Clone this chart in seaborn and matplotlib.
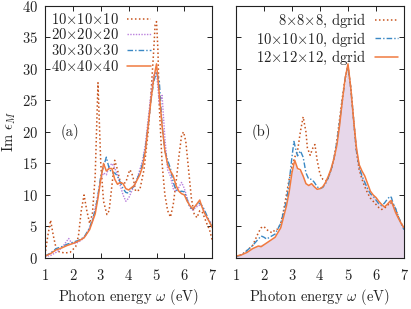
import numpy as np
import pandas as pd
import seaborn as sns
import matplotlib
matplotlib.use("Agg")
import matplotlib.pyplot as plt

# panel (a): k-point convergence
e10 = [1.0, 1.1, 1.2, 1.3, 1.4, 1.5, 1.7, 1.9, 2.1, 2.2, 2.3, 2.4, 2.5, 2.6, 2.7, 2.8, 2.9,
       3.0, 3.1, 3.22, 3.3, 3.4, 3.5, 3.6, 3.7, 3.8, 3.9, 4.0, 4.05, 4.15, 4.25, 4.4, 4.55,
       4.7, 4.8, 4.9, 4.95, 5.0, 5.05, 5.1, 5.2, 5.3, 5.4, 5.5, 5.6, 5.7, 5.8, 5.9, 5.97,
       6.05, 6.15, 6.25, 6.35, 6.45, 6.55, 6.65, 6.8, 6.9, 7.0]
im10 = [0.5, 3.5, 6.0, 3.5, 1.5, 1.0, 0.8, 0.9, 1.8, 3.5, 7.5, 10.0, 7.5, 5.5, 7.0, 13.0, 27.8,
        15.0, 9.0, 6.9, 7.5, 11.5, 15.5, 14.0, 12.0, 11.8, 12.0, 13.5, 14.0, 13.0, 10.6, 10.8, 14.0,
        20.0, 26.0, 33.0, 37.0, 37.5, 33.0, 24.0, 15.0, 10.0, 7.5, 6.5, 8.5, 12.0, 16.0, 19.5, 20.0,
        18.5, 14.0, 9.5, 7.0, 6.4, 7.5, 7.2, 5.5, 4.5, 2.8]

e20 = [1.0, 1.2, 1.4, 1.6, 1.75, 1.85, 1.95, 2.1, 2.3, 2.5, 2.7, 2.9, 3.0, 3.1, 3.2, 3.3, 3.4,
       3.5, 3.6, 3.7, 3.8, 3.9, 4.0, 4.1, 4.2, 4.3, 4.4, 4.5, 4.6, 4.7, 4.8, 4.9, 5.0, 5.1, 5.2,
       5.3, 5.4, 5.5, 5.6, 5.7, 5.8, 5.9, 6.0, 6.1, 6.2, 6.3, 6.4, 6.5, 6.6, 6.7, 6.8, 6.9, 7.0]
im20 = [0.2, 0.4, 0.9, 1.6, 2.5, 3.1, 2.4, 2.3, 2.8, 3.8, 5.8, 10.0, 12.5, 13.5, 13.2, 14.5, 15.0,
        14.3, 13.2, 11.5, 10.0, 9.0, 9.5, 10.5, 11.5, 12.5, 14.0, 15.5, 18.0, 22.0, 26.0, 29.0, 29.5,
        24.5, 25.8, 19.0, 14.0, 13.0, 11.0, 10.6, 11.2, 12.0, 11.0, 9.5, 8.0, 7.6, 8.0, 8.3, 8.5,
        7.5, 6.5, 5.8, 5.5]

e30 = [1.0, 1.2, 1.4, 1.6, 1.8, 2.0, 2.2, 2.4, 2.6, 2.8, 2.9, 3.0, 3.1, 3.2, 3.3, 3.4, 3.5, 3.6,
       3.7, 3.8, 3.9, 4.0, 4.2, 4.4, 4.5, 4.6, 4.7, 4.8, 4.9, 5.0, 5.1, 5.2, 5.3, 5.4, 5.5, 5.6,
       5.7, 5.8, 5.9, 6.0, 6.1, 6.2, 6.3, 6.4, 6.5, 6.6, 6.7, 6.8, 6.9, 7.0]
im30 = [0.3, 0.8, 1.5, 1.8, 2.2, 2.5, 2.8, 3.3, 4.8, 7.5, 10.0, 13.0, 14.5, 16.0, 14.2, 13.5, 13.5,
        13.0, 12.0, 11.0, 10.4, 10.3, 11.5, 13.5, 15.0, 17.5, 21.0, 25.0, 28.0, 29.5, 28.0, 21.0,
        17.0, 15.5, 14.2, 12.0, 10.8, 10.5, 10.6, 10.5, 9.2, 8.0, 7.8, 8.2, 8.8, 8.5, 7.8, 6.8,
        5.8, 4.8]

e40 = [1.0, 1.2, 1.4, 1.6, 1.8, 2.0, 2.2, 2.4, 2.6, 2.8, 2.9, 3.0, 3.1, 3.2, 3.3, 3.4, 3.5, 3.6,
       3.7, 3.8, 3.9, 4.0, 4.2, 4.4, 4.5, 4.6, 4.7, 4.8, 4.9, 5.0, 5.1, 5.2, 5.3, 5.4, 5.5, 5.6,
       5.7, 5.8, 5.9, 6.0, 6.1, 6.2, 6.3, 6.4, 6.5, 6.55, 6.6, 6.7, 6.8, 6.9, 7.0]
im40 = [0.3, 0.7, 1.3, 1.6, 2.0, 2.3, 2.7, 3.2, 4.5, 7.0, 9.5, 12.5, 15.0, 13.8, 14.2, 14.2, 12.5,
        11.7, 12.0, 11.8, 11.0, 10.8, 11.5, 13.2, 14.5, 17.0, 21.0, 25.0, 28.5, 30.8, 26.0, 21.0,
        17.0, 14.8, 13.8, 13.0, 11.5, 10.6, 10.2, 10.0, 9.0, 8.3, 7.8, 8.3, 8.9, 9.2, 8.5, 7.3,
        6.5, 5.7, 4.8]

# panel (b): dgrid
e8 = [1.0, 1.2, 1.4, 1.6, 1.7, 1.8, 1.9, 2.0, 2.1, 2.2, 2.3, 2.4, 2.5, 2.6, 2.7, 2.8, 2.9, 3.0,
      3.1, 3.2, 3.3, 3.4, 3.5, 3.55, 3.65, 3.75, 3.82, 3.9, 4.0, 4.1, 4.25, 4.4, 4.5, 4.6, 4.7,
      4.8, 4.9, 5.0, 5.1, 5.2, 5.3, 5.4, 5.5, 5.6, 5.7, 5.8, 5.9, 6.0, 6.1, 6.2, 6.3, 6.4, 6.5,
      6.6, 6.7, 6.8, 6.9, 7.0]
im8 = [0.2, 0.5, 1.2, 2.0, 3.0, 4.0, 4.8, 5.0, 4.5, 4.2, 4.0, 4.5, 4.6, 5.5, 7.5, 10.0, 12.5, 14.5,
       16.0, 17.0, 20.0, 22.4, 20.0, 17.5, 16.3, 17.5, 18.0, 15.5, 13.3, 12.5, 12.2, 14.0, 15.8,
       18.5, 22.0, 25.5, 28.5, 30.5, 27.0, 22.0, 17.0, 14.0, 12.5, 11.3, 10.3, 9.5, 9.0, 8.5, 8.0,
       7.7, 7.9, 8.3, 8.8, 8.6, 7.8, 6.5, 5.5, 4.8]

e10d = [1.0, 1.2, 1.4, 1.6, 1.8, 1.9, 2.0, 2.1, 2.2, 2.4, 2.6, 2.8, 2.9, 3.0, 3.07, 3.15, 3.2,
        3.3, 3.4, 3.5, 3.6, 3.7, 3.8, 3.9, 4.0, 4.1, 4.2, 4.3, 4.4, 4.5, 4.6, 4.7, 4.8, 4.9, 5.0,
        5.1, 5.2, 5.3, 5.4, 5.5, 5.6, 5.7, 5.8, 5.9, 6.0, 6.1, 6.2, 6.3, 6.4, 6.5, 6.55, 6.6, 6.7,
        6.8, 6.9, 7.0]
im10d = [0.2, 0.5, 1.2, 2.0, 3.0, 3.5, 3.3, 3.0, 3.3, 3.8, 5.5, 9.0, 12.0, 16.0, 18.5, 17.0, 16.2,
         17.0, 16.0, 13.5, 12.5, 12.5, 12.0, 11.3, 11.0, 11.2, 11.8, 12.8, 14.0, 15.8, 18.3, 21.5,
         25.0, 28.5, 30.5, 27.0, 22.0, 17.0, 14.5, 13.0, 12.0, 11.0, 10.2, 9.8, 9.2, 8.6, 8.3, 8.7,
         9.3, 9.8, 9.6, 8.8, 7.8, 6.6, 5.4, 4.5]

e12 = [1.0, 1.2, 1.4, 1.6, 1.8, 1.9, 2.0, 2.2, 2.4, 2.6, 2.8, 2.9, 3.0, 3.1, 3.2, 3.3, 3.4, 3.5,
       3.6, 3.7, 3.8, 3.9, 4.0, 4.1, 4.2, 4.3, 4.4, 4.5, 4.6, 4.7, 4.8, 4.9, 5.0, 5.1, 5.2, 5.3,
       5.4, 5.5, 5.6, 5.7, 5.8, 5.9, 6.0, 6.1, 6.2, 6.3, 6.4, 6.5, 6.55, 6.6, 6.7, 6.8, 6.9, 7.0]
im12 = [0.3, 0.5, 0.9, 1.5, 1.9, 1.8, 2.1, 2.7, 3.3, 4.8, 8.2, 10.5, 13.5, 15.5, 14.2, 14.0, 13.0,
        11.8, 11.5, 11.8, 11.3, 10.9, 11.0, 11.3, 12.0, 13.0, 14.2, 15.8, 17.8, 21.0, 25.0, 28.5,
        30.8, 27.0, 22.0, 17.5, 14.8, 13.8, 13.0, 11.8, 10.6, 10.0, 9.6, 9.0, 8.5, 8.1, 8.5, 9.0,
        9.1, 8.4, 7.2, 6.3, 5.5, 4.8]

# shaded reference spectrum in (b)
eref = [1.0, 1.2, 1.4, 1.6, 1.8, 2.0, 2.2, 2.4, 2.6, 2.8, 2.9, 3.0, 3.1, 3.2, 3.3, 3.4, 3.5, 3.6,
        3.7, 3.8, 3.9, 4.0, 4.2, 4.4, 4.6, 4.8, 5.0, 5.2, 5.4, 5.5, 5.6, 5.7, 5.8, 5.9, 6.0, 6.2,
        6.3, 6.4, 6.5, 6.6, 6.7, 6.8, 6.9, 7.0]
imref = [0.2, 0.5, 1.0, 1.6, 2.0, 2.3, 2.8, 3.4, 5.0, 8.3, 10.8, 13.5, 15.0, 14.0, 13.8, 13.0, 11.8,
         11.6, 11.8, 11.3, 10.9, 11.0, 12.0, 14.2, 17.8, 25.0, 30.5, 22.0, 14.5, 13.3, 12.3, 11.2,
         10.2, 9.8, 9.4, 8.4, 8.3, 8.8, 9.4, 8.7, 7.6, 6.5, 5.5, 4.6]

labels_a = [r"10$\times$10$\times$10", r"20$\times$20$\times$20",
            r"30$\times$30$\times$30", r"40$\times$40$\times$40"]
labels_b = [r"8$\times$8$\times$8, dgrid", r"10$\times$10$\times$10, dgrid",
            r"12$\times$12$\times$12, dgrid"]

sns.set_theme(style="ticks")
plt.rcParams["font.family"] = "serif"
plt.rcParams["font.serif"] = ["cmr10"]
plt.rcParams["mathtext.fontset"] = "cm"
plt.rcParams["axes.formatter.use_mathtext"] = True
plt.rcParams["axes.unicode_minus"] = False

c_dot = "#c8541e"
c_purple = "#bb80dd"
c_blue = "#3a88c4"
c_orange = "#f07a40"
c_fill = "#e7d7ea"

fig = plt.figure(figsize=(4.11, 3.09), dpi=100)
ax1 = fig.add_axes([0.1095, 0.165, 0.407, 0.816])
ax2 = fig.add_axes([0.574, 0.165, 0.409, 0.816])

sns.lineplot(x=e10, y=im10, ax=ax1, color=c_dot, ls=(0, (1, 1.6)), lw=1.1, label=labels_a[0])
sns.lineplot(x=e20, y=im20, ax=ax1, color=c_purple, ls=(0, (1, 1)), lw=1.0, label=labels_a[1])
sns.lineplot(x=e30, y=im30, ax=ax1, color=c_blue, ls=(0, (4, 1.5, 1, 1.5)), lw=1.0, label=labels_a[2])
sns.lineplot(x=e40, y=im40, ax=ax1, color=c_orange, ls="-", lw=1.1, label=labels_a[3])

ax2.fill_between(eref, 0, imref, color=c_fill, lw=0)
sns.lineplot(x=e8, y=im8, ax=ax2, color=c_dot, ls=(0, (1, 1.6)), lw=1.1, label=labels_b[0])
sns.lineplot(x=e10d, y=im10d, ax=ax2, color=c_blue, ls=(0, (4, 1.5, 1, 1.5)), lw=1.0, label=labels_b[1])
sns.lineplot(x=e12, y=im12, ax=ax2, color=c_orange, ls="-", lw=1.1, label=labels_b[2])

for ax in (ax1, ax2):
    ax.set_xlim(1, 7)
    ax.set_ylim(0, 40)
    ax.set_xticks(range(1, 8))
    ax.set_yticks(range(0, 41, 5))
    ax.tick_params(direction="in", top=True, right=True, length=3.5, width=0.7,
                   labelsize=10.5, colors="#222222", pad=5)
    ax.tick_params(axis="x", pad=7)
    for s in ax.spines.values():
        s.set_linewidth(0.8)
        s.set_color("#222222")
    ax.set_xlabel(r"Photon energy $\omega$ (eV)", fontsize=10.5, color="#222222", labelpad=3)

ax2.tick_params(labelleft=False)
ax1.set_ylabel(r"Im $\epsilon_M$", fontsize=10.5, color="#222222", labelpad=3)

ax1.text(1.9, 20, "(a)", fontsize=10.5, ha="center", va="center", color="#222222")
ax2.text(1.9, 20, "(b)", fontsize=10.5, ha="center", va="center", color="#222222")

ax1.legend(loc="upper left", frameon=False, markerfirst=False, fontsize=10.5,
           handlelength=1.6, handletextpad=0.6, labelspacing=0.05,
           borderaxespad=0.2, borderpad=0.2, labelcolor="#222222")
ax2.legend(loc="upper right", frameon=False, markerfirst=False, fontsize=10.5,
           handlelength=1.6, handletextpad=0.6, labelspacing=0.05,
           borderaxespad=0.2, borderpad=0.2, labelcolor="#222222")

fig.savefig("out.png", dpi=100)
